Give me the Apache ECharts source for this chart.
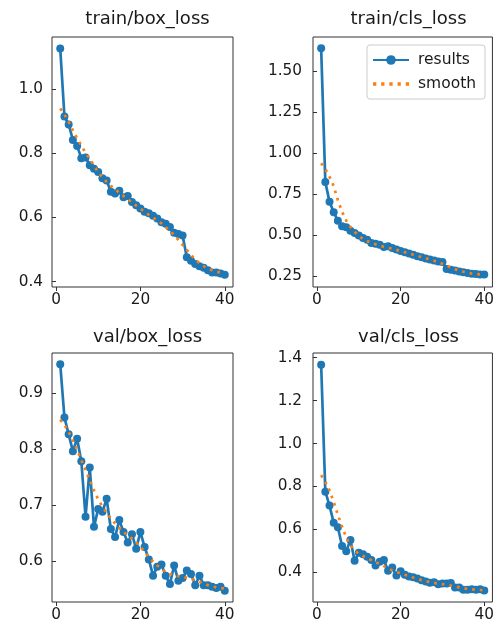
<!DOCTYPE html>
<html>
<head>
<meta charset="utf-8">
<script src="https://cdn.jsdelivr.net/npm/echarts@6/dist/echarts.min.js"></script>
<style>
html,body{margin:0;padding:0;background:#fff;}
#chart{width:497px;height:624px;}
</style>
</head>
<body>
<div id="chart"></div>
<script>
const epochs = [1,2,3,4,5,6,7,8,9,10,11,12,13,14,15,16,17,18,19,20,21,22,23,24,25,26,27,28,29,30,31,32,33,34,35,36,37,38,39,40];

const titles = ['train/box_loss', 'train/cls_loss', 'val/box_loss', 'val/cls_loss'];

const trainBoxResults = [1.127,0.915,0.890,0.842,0.823,0.785,0.787,0.763,0.752,0.742,0.722,0.715,0.680,0.675,0.683,0.663,0.667,0.648,0.638,0.628,0.618,0.613,0.605,0.597,0.585,0.580,0.570,0.552,0.548,0.544,0.476,0.465,0.455,0.448,0.443,0.435,0.428,0.428,0.425,0.421];
const trainBoxSmooth = [0.940,0.921,0.898,0.872,0.847,0.824,0.802,0.782,0.762,0.741,0.725,0.711,0.699,0.688,0.677,0.667,0.657,0.647,0.637,0.627,0.618,0.608,0.599,0.591,0.581,0.570,0.558,0.545,0.530,0.514,0.499,0.483,0.469,0.457,0.448,0.441,0.435,0.431,0.428,0.427];

const trainClsResults = [1.641,0.825,0.705,0.641,0.590,0.556,0.550,0.529,0.515,0.500,0.484,0.474,0.454,0.450,0.444,0.430,0.434,0.423,0.415,0.406,0.398,0.390,0.382,0.374,0.367,0.360,0.353,0.348,0.342,0.338,0.295,0.291,0.287,0.280,0.276,0.271,0.267,0.265,0.262,0.262];
const trainClsSmooth = [0.940,0.905,0.858,0.800,0.715,0.645,0.590,0.552,0.523,0.497,0.479,0.466,0.455,0.446,0.438,0.431,0.425,0.419,0.412,0.405,0.398,0.391,0.383,0.376,0.368,0.361,0.354,0.346,0.337,0.327,0.316,0.305,0.295,0.286,0.279,0.273,0.268,0.265,0.263,0.262];

const valBoxResults = [0.951,0.856,0.826,0.796,0.818,0.778,0.679,0.767,0.661,0.693,0.688,0.711,0.657,0.643,0.673,0.652,0.633,0.648,0.622,0.652,0.625,0.603,0.574,0.590,0.594,0.574,0.559,0.592,0.565,0.570,0.583,0.577,0.557,0.574,0.557,0.557,0.554,0.552,0.554,0.547];
const valBoxSmooth = [0.852,0.843,0.830,0.815,0.798,0.780,0.762,0.744,0.726,0.710,0.697,0.686,0.676,0.667,0.659,0.652,0.646,0.640,0.633,0.626,0.616,0.607,0.599,0.592,0.586,0.581,0.577,0.575,0.573,0.572,0.570,0.568,0.566,0.563,0.560,0.557,0.555,0.553,0.552,0.551];

const valClsResults = [1.367,0.776,0.711,0.631,0.610,0.523,0.499,0.551,0.454,0.491,0.484,0.473,0.458,0.432,0.450,0.458,0.408,0.423,0.385,0.405,0.389,0.381,0.377,0.372,0.363,0.357,0.352,0.354,0.345,0.348,0.348,0.350,0.330,0.329,0.319,0.319,0.321,0.319,0.321,0.315];
const valClsSmooth = [0.853,0.822,0.782,0.728,0.668,0.612,0.563,0.526,0.502,0.487,0.476,0.466,0.457,0.448,0.439,0.429,0.419,0.409,0.402,0.396,0.389,0.383,0.376,0.370,0.364,0.359,0.355,0.351,0.348,0.345,0.342,0.338,0.334,0.330,0.326,0.323,0.321,0.319,0.318,0.317];

const xTicks = [0, 20, 40];
const yTicks1 = [0.4, 0.6, 0.8, 1.0];
const yTicks2 = [0.25, 0.50, 0.75, 1.00, 1.25, 1.50];
const yTicks3 = [0.6, 0.7, 0.8, 0.9];
const yTicks4 = [0.4, 0.6, 0.8, 1.0, 1.2, 1.4];

const panels = [
  {results: trainBoxResults, smooth: trainBoxSmooth, ticks: yTicks1, dec: 1, min: 0.383, max: 1.163},
  {results: trainClsResults, smooth: trainClsSmooth, ticks: yTicks2, dec: 2, min: 0.186, max: 1.709},
  {results: valBoxResults, smooth: valBoxSmooth, ticks: yTicks3, dec: 1, min: 0.527, max: 0.971},
  {results: valClsResults, smooth: valClsSmooth, ticks: yTicks4, dec: 1, min: 0.262, max: 1.422}
];

const BLUE = '#1f77b4', ORANGE = '#ff7f0e';
const FONT = 'DejaVu Sans';
const TXT = '#1a1a1a';
const gridPos = [
  {left: 52, top: 37, width: 181, height: 250},
  {left: 313, top: 37, width: 181, height: 250},
  {left: 52, top: 353, width: 181, height: 249},
  {left: 313, top: 353, width: 181, height: 249}
];
const yMargins = [9, 11, 9, 11];
const titleTops = [5, 5, 323, 323];

const grid = [], xAxis = [], yAxis = [], series = [], title = [];
panels.forEach((p, i) => {
  const g = gridPos[i];
  grid.push(Object.assign({show: true, borderColor: '#333', borderWidth: 1, backgroundColor: 'transparent'}, g));
  title.push({
    text: titles[i], left: g.left + g.width / 2, top: titleTops[i], textAlign: 'center',
    textStyle: {fontFamily: FONT, fontSize: 18, fontWeight: 'normal', color: TXT}
  });
  xAxis.push({
    type: 'value', gridIndex: i, min: -0.95, max: 41.95,
    axisLine: {show: false},
    axisTick: {show: true, inside: false, length: 4, lineStyle: {color: '#333'}, customValues: xTicks},
    axisLabel: {customValues: xTicks, fontFamily: FONT, fontSize: 15.3, color: TXT, margin: 6},
    splitLine: {show: false}
  });
  yAxis.push({
    type: 'value', gridIndex: i, min: p.min, max: p.max,
    axisLine: {show: false},
    axisTick: {show: true, inside: false, length: 4, lineStyle: {color: '#333'}, customValues: p.ticks},
    axisLabel: {customValues: p.ticks, fontFamily: FONT, fontSize: 15.3, color: TXT, margin: yMargins[i],
      formatter: v => Number(v).toFixed(p.dec)},
    splitLine: {show: false}
  });
  series.push({
    name: 'results', type: 'line', xAxisIndex: i, yAxisIndex: i,
    data: epochs.map((e, k) => [e, p.results[k]]),
    symbol: 'circle', symbolSize: 8, showSymbol: true,
    lineStyle: {color: BLUE, width: 2.7}, itemStyle: {color: BLUE},
    animation: false, z: 2
  });
  series.push({
    name: 'smooth', type: 'line', xAxisIndex: i, yAxisIndex: i,
    data: epochs.map((e, k) => [e, p.smooth[k]]),
    symbol: 'none', showSymbol: false,
    lineStyle: {color: ORANGE, width: 2.7, type: [2.7, 5]}, itemStyle: {color: ORANGE},
    animation: false, z: 3
  });
});

const dottedIcon = 'path://M0,0h3v3h-3zM7.5,0h3v3h-3zM15,0h3v3h-3zM22.5,0h3v3h-3zM30,0h3v3h-3z';

const chart = echarts.init(document.getElementById('chart'), null, {renderer: 'canvas'});
chart.setOption({
  animation: false,
  backgroundColor: '#fff',
  title: title,
  grid: grid,
  xAxis: xAxis,
  yAxis: yAxis,
  series: series,
  legend: {
    data: [{name: 'results'}, {name: 'smooth', icon: dottedIcon}],
    orient: 'vertical', left: 367, top: 45,
    itemWidth: 36, itemHeight: 12, itemGap: 8,
    padding: [7, 9, 7, 5],
    borderColor: '#ccc', borderWidth: 1, borderRadius: 3,
    backgroundColor: 'rgba(255,255,255,0.8)',
    textStyle: {fontFamily: FONT, fontSize: 15.5, color: TXT, padding: [0, 0, 0, 4]}
  }
});
</script>
</body>
</html>
